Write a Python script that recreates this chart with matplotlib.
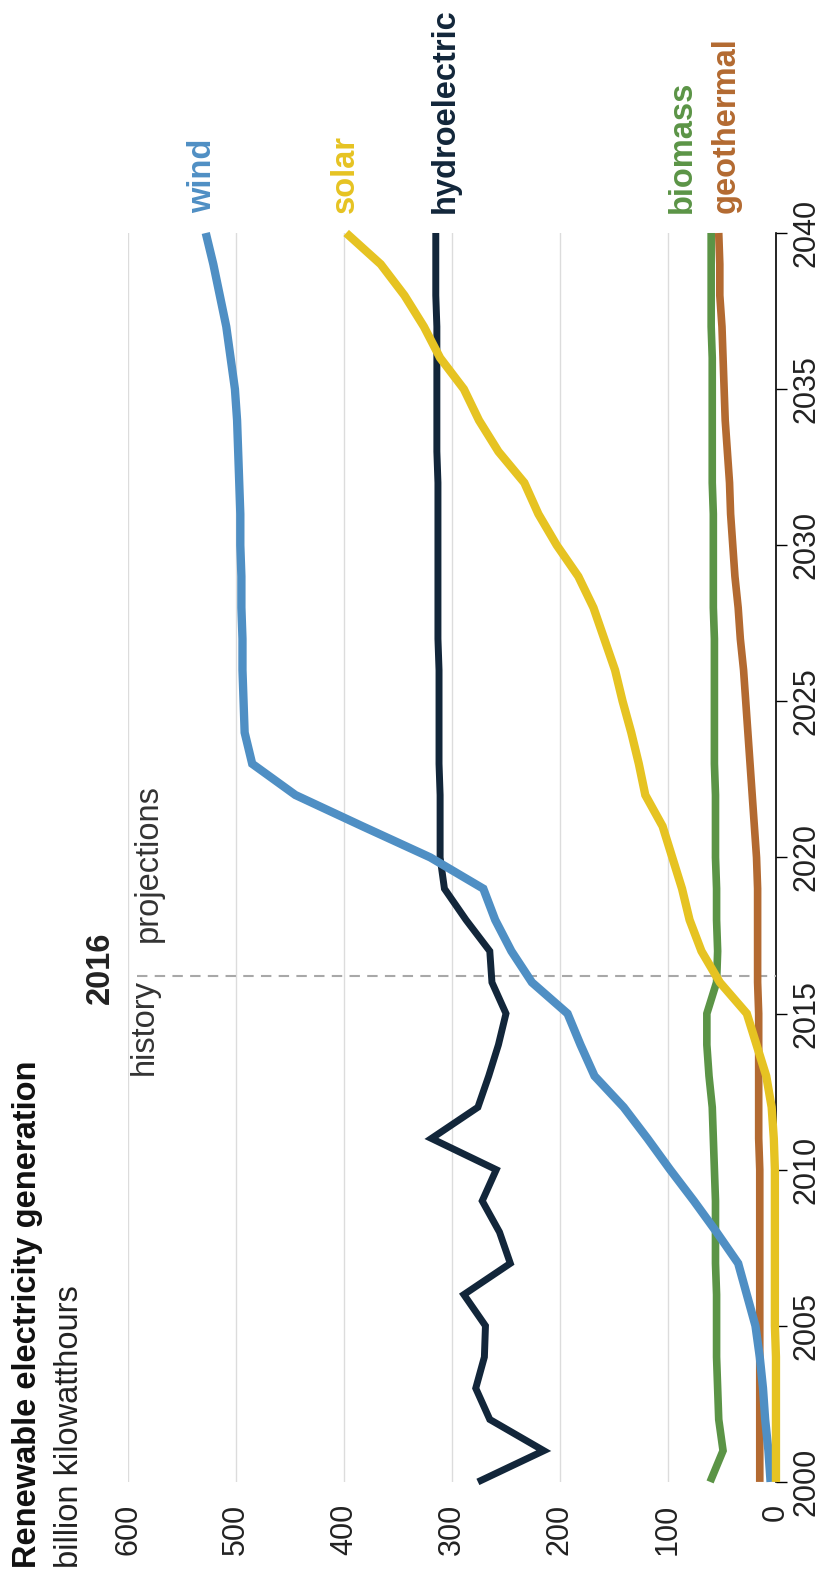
import matplotlib.pyplot as plt

plt.rcParams['font.family'] = ['Liberation Sans', 'DejaVu Sans']

# Datos (miles de millones de kWh)
anios = list(range(2000, 2041))

hidro = [276, 215, 265, 278, 270, 269, 289, 246, 256, 272,
         259, 319, 276, 266, 257, 250, 263, 265, 287, 307,
         311, 311, 311, 312, 312, 312, 312, 313, 313, 313,
         313, 313, 313, 314, 314, 314, 314, 314, 315, 315, 315]

eolica = [5, 7, 10, 12, 15, 19, 27, 35, 55, 76,
          98, 119, 141, 168, 181, 193, 226, 245, 260, 271,
          320, 383, 445, 485, 492, 493, 494, 494, 495, 495,
          496, 496, 497, 498, 499, 501, 505, 509, 515, 521, 528]

solar = [0, 0, 0, 0, 0, 1, 1, 1, 1, 1,
         1, 2, 4, 9, 18, 27, 52, 69, 80, 87,
         96, 105, 121, 127, 134, 142, 149, 159, 169, 183,
         203, 220, 233, 257, 275, 289, 311, 326, 344, 366, 398]

biomasa = [61, 49, 53, 54, 55, 55, 55, 56, 56, 56,
           57, 58, 59, 62, 64, 64, 55, 54, 55, 55,
           56, 56, 56, 57, 57, 57, 57, 57, 58, 58,
           58, 58, 59, 59, 59, 59, 59, 60, 60, 60, 60]

geotermica = [15, 15, 15, 15, 15, 15, 15, 15, 15, 15,
              15, 16, 16, 16, 16, 16, 17, 17, 17, 17,
              18, 20, 22, 24, 26, 28, 30, 33, 35, 38,
              40, 42, 43, 45, 47, 48, 49, 50, 52, 52, 53]

nombres = ['wind', 'solar', 'hydroelectric', 'biomass', 'geothermal']
posicion_etiqueta = [531, 399, 306, 87, 46]

valores_ticks = [0, 100, 200, 300, 400, 500, 600]
anios_ticks = list(range(2000, 2041, 5))
anio_corte = 2016.2

# Colores de cada serie
colores = {
    'wind': '#4f8fc4',
    'solar': '#e6c322',
    'hydroelectric': '#12263a',
    'biomass': '#5b9446',
    'geothermal': '#b36a31',
}

fig = plt.figure(figsize=(8.35, 15.7), dpi=100)
ax = fig.add_axes([0.1533, 0.0561, 0.776, 0.7955])

# Orden de dibujo: la solar queda encima del eje
series = [
    ('hydroelectric', hidro, 5.0),
    ('geothermal', geotermica, 5.5),
    ('biomass', biomasa, 5.5),
    ('wind', eolica, 6.0),
    ('solar', solar, 6.0),
]
for i, (nombre, datos, grosor) in enumerate(series):
    ax.plot(datos, anios, color=colores[nombre], linewidth=grosor,
            solid_capstyle='butt', solid_joinstyle='miter', clip_on=False, zorder=5 + i)

# Linea punteada historia / proyecciones
ax.axhline(anio_corte, xmin=0.014, xmax=1, color='#a8a8a8', linewidth=1.5,
           dashes=(5, 3.5), zorder=4)

# Configurar ejes
ax.set_xlim(600, 0)
ax.set_ylim(2000, 2040)
ax.set_xticks(valores_ticks)
ax.set_xticklabels([str(v) for v in valores_ticks], rotation=90, fontsize=22, color='#222222')
ax.tick_params(axis='x', length=0, pad=16)

ax.yaxis.tick_right()
ax.set_yticks(anios_ticks)
ax.set_yticklabels([str(a) for a in anios_ticks], rotation=90, fontsize=22,
                   color='#222222', va='center')
ax.tick_params(axis='y', length=8, width=1, pad=3, color='black')

for lado in ['left', 'top', 'bottom']:
    ax.spines[lado].set_visible(False)
ax.spines['right'].set_color('black')
ax.spines['right'].set_linewidth(1.2)
ax.spines['right'].set_zorder(3)

ax.grid(axis='x', color='#dcdcdc', linewidth=1)
ax.grid(axis='y', visible=False)
ax.set_axisbelow(True)

# Etiquetas de las series
for nombre, pos in zip(nombres, posicion_etiqueta):
    ax.text(pos, 2040.64, nombre, rotation=90, ha='center', va='bottom',
            fontsize=23.5, fontweight='bold', color=colores[nombre])

# Anotaciones 2016
ax.text(626, 2016.45, '2016', rotation=90, ha='center', va='center',
        fontsize=23.5, fontweight='bold', color='#222222')
ax.text(585, 2016.1, 'history', rotation=90, ha='center', va='top',
        fontsize=23.5, color='#333333')
ax.text(581, 2017.28, 'projections', rotation=90, ha='center', va='bottom',
        fontsize=23.5, color='#333333')

# Titulo y subtitulo
fig.text(0.0335, 0.001, 'Renewable electricity generation', rotation=90,
         ha='center', va='bottom', fontsize=23.5, fontweight='bold', color='#111111')
fig.text(0.083, 0.001, 'billion kilowatthours', rotation=90,
         ha='center', va='bottom', fontsize=23.5, color='#222222')

fig.savefig('out.png', dpi=100)
